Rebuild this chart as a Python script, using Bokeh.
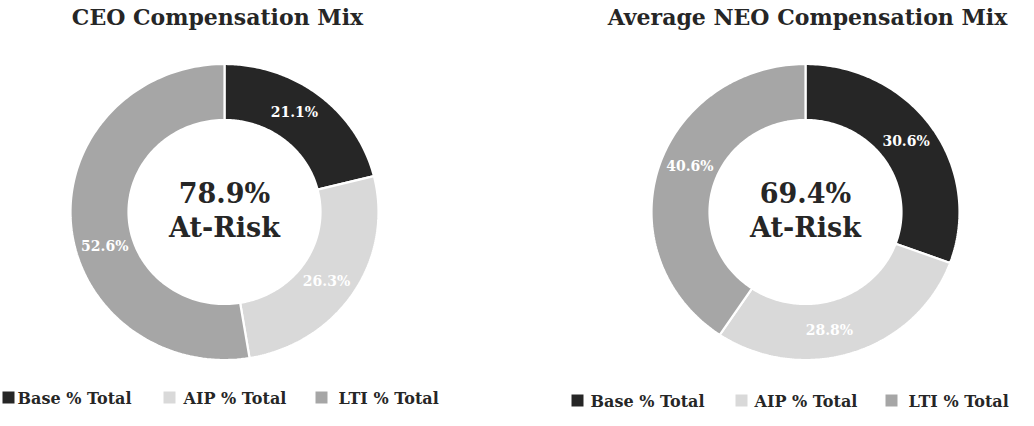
import numpy as np
from bokeh.plotting import figure
from bokeh.models import Range1d
from bokeh.core.properties import value
from bokeh.embed import file_html
from bokeh.resources import INLINE

# ---- data ----
categories = ["Base % Total", "AIP % Total", "LTI  % Total"]
ceo_values = [21.1, 26.3, 52.6]
neo_values = [30.6, 28.8, 40.6]
titles = ["CEO Compensation Mix", "Average NEO Compensation Mix"]
center_caption = "At-Risk"

# ---- style ----
colors = ["#262626", "#d9d9d9", "#a6a6a6"]
text_color = "#262626"
FONT = value("DejaVu Serif")

W, H = 1018, 410
p = figure(width=W, height=H, output_backend="svg", toolbar_location=None,
           x_range=Range1d(0, W), y_range=Range1d(H, 0),
           min_border=0, outline_line_color=None)
p.axis.visible = False
p.grid.visible = False
p.background_fill_color = "white"
p.border_fill_color = "white"


def donut(values, cx, cy, title, title_x, label_nudge, legend_y, sq_x, txt_x):
    rx, ry = 154, 148
    irx, iry = 96, 92
    lrx, lry = 125, 120
    total = float(sum(values))
    cum = np.concatenate([[0.0], np.cumsum(values)]) / total * 2 * np.pi
    xs, ys, lx, ly, lt = [], [], [], [], []
    for i, v in enumerate(values):
        t = np.linspace(cum[i], cum[i + 1], 120)
        ox = cx + rx * np.sin(t)
        oy = cy - ry * np.cos(t)
        ix = cx + irx * np.sin(t[::-1])
        iy = cy - iry * np.cos(t[::-1])
        xs.append(np.concatenate([ox, ix]).tolist())
        ys.append(np.concatenate([oy, iy]).tolist())
        mid = (cum[i] + cum[i + 1]) / 2 + np.deg2rad(label_nudge[i])
        lx.append(cx + lrx * np.sin(mid))
        ly.append(cy - lry * np.cos(mid))
        lt.append(f"{v:.1f}%")
    p.patches(xs=xs, ys=ys, fill_color=colors, line_color="white", line_width=2.2)
    p.text(x=lx, y=ly, text=lt, text_font=FONT, text_font_style="bold",
           text_font_size="14px", text_color="white", text_align="center",
           text_baseline="middle")
    at_risk = f"{sum(values[1:]):.1f}%"
    p.text(x=[cx, cx], y=[cy - 19, cy + 15], text=[at_risk, center_caption],
           text_font=FONT, text_font_style="bold", text_font_size="27px",
           text_color=text_color, text_align="center", text_baseline="middle")
    p.text(x=[title_x], y=[16], text=[title], text_font=FONT, text_font_style="bold",
           text_font_size="22px", text_color=text_color, text_align="center",
           text_baseline="middle")
    # legend
    p.rect(x=sq_x, y=[legend_y] * 3, width=12, height=12, fill_color=colors,
           line_color=None)
    p.text(x=txt_x, y=[legend_y + 1] * 3, text=categories, text_font=FONT,
           text_font_style="bold", text_font_size="16px", text_color=text_color,
           text_align="left", text_baseline="middle")


donut(ceo_values, 224, 211.5, titles[0], 217, [-4, 2, -12], 397,
      [8, 169, 321], [17, 183, 338])
donut(neo_values, 805, 211.5, titles[1], 807, [-1.5, 7, 5.5], 400,
      [577, 741, 891], [590, 754, 908])

open("out.html", "w").write(file_html(p, INLINE))
